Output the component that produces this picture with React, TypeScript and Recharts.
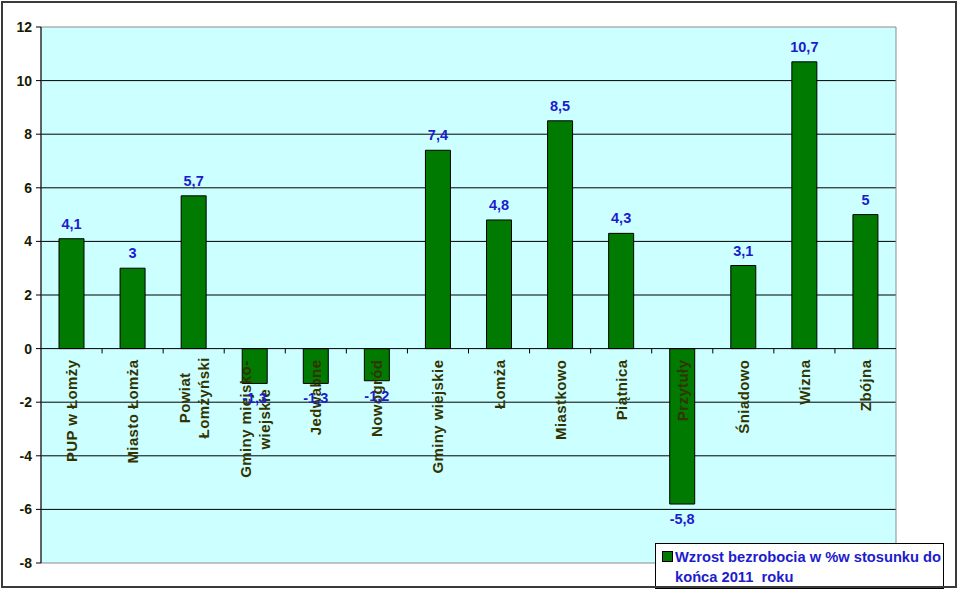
import React from "react";
import {
  BarChart,
  Bar,
  XAxis,
  YAxis,
  CartesianGrid,
  ReferenceLine,
  ReferenceArea,
  LabelList,
  Legend,
} from "recharts";

const categories = [
  "PUP w Łomży",
  "Miasto Łomża",
  "Powiat\nŁomżyński",
  "Gminy miejsko-\nwiejskie",
  "Jedwabne",
  "Nowogród",
  "Gminy wiejskie",
  "Łomża",
  "Miastkowo",
  "Piątnica",
  "Przytuły",
  "Śniadowo",
  "Wizna",
  "Zbójna",
];

const values = [4.1, 3, 5.7, -1.3, -1.3, -1.2, 7.4, 4.8, 8.5, 4.3, -5.8, 3.1, 10.7, 5];

const yTicks = [-8, -6, -4, -2, 0, 2, 4, 6, 8, 10, 12];
const gridValues = [-6, -4, -2, 2, 4, 6, 8, 10];

const seriesName = "Wzrost bezrobocia w %w stosunku do końca 2011  roku";

const data = categories.map((name, i) => ({ name, value: values[i] }));

const FONT = "Arial, 'Liberation Sans', sans-serif";
const BLUE = "#1C1CCC";
const DARK = "#333300";
const GREEN = "#007A00";

const fmt = (v: number) => String(v).replace(".", ",");

const ValueLabel = (props: any) => {
  const { x, y, width, height, value } = props;
  const top = Math.min(y, y + height);
  const bottom = Math.max(y, y + height);
  const cx = x + width / 2;
  const ty = value >= 0 ? top - 15 : bottom + 15;
  return (
    <text
      x={cx}
      y={ty}
      textAnchor="middle"
      dominantBaseline="central"
      fill={BLUE}
      fontFamily={FONT}
      fontWeight="bold"
      fontSize={14.5}
    >
      {fmt(value)}
    </text>
  );
};

const CategoryLabel = (props: any) => {
  const { x, y, width, height, index } = props;
  const top = Math.min(y, y + height);
  const bottom = Math.max(y, y + height);
  const base = values[index] >= 0 ? bottom : top;
  const cx = x + width / 2;
  const lines = String(categories[index]).split("\n");
  const common = {
    fill: DARK,
    fontFamily: FONT,
    fontWeight: "bold" as const,
    fontSize: 15,
    letterSpacing: 0.4,
    dominantBaseline: "central" as const,
  };
  if (lines.length === 1) {
    return (
      <g transform={`translate(${cx},${base + 11}) rotate(-90)`}>
        <text x={0} y={0} textAnchor="end" {...common}>
          {lines[0]}
        </text>
      </g>
    );
  }
  const maxLen = Math.max(...lines.map((l) => l.length));
  const mid = -(maxLen * 8.5) / 2;
  return (
    <g transform={`translate(${cx},${base + 11}) rotate(-90)`}>
      {lines.map((l, i) => (
        <text
          key={i}
          x={mid}
          y={(i - (lines.length - 1) / 2) * 19}
          textAnchor="middle"
          {...common}
        >
          {l}
        </text>
      ))}
    </g>
  );
};

const LegendBox = () => (
  <div
    style={{
      width: 289,
      height: 46,
      boxSizing: "border-box",
      border: "1px solid #000",
      background: "#fff",
      position: "relative",
      fontFamily: FONT,
      fontWeight: "bold",
      fontSize: 14.7,
      color: BLUE,
    }}
  >
    <div
      style={{
        position: "absolute",
        left: 6,
        top: 7,
        width: 9,
        height: 9,
        background: GREEN,
        border: "1px solid #000",
      }}
    />
    <div
      style={{
        position: "absolute",
        left: 19,
        top: 3,
        lineHeight: "20px",
        whiteSpace: "pre",
      }}
    >
      {"Wzrost bezrobocia w %w stosunku do\nkońca 2011  roku"}
    </div>
  </div>
);

export default function App() {
  return (
    <div
      style={{
        position: "absolute",
        left: 0,
        top: 0,
        width: 959,
        height: 589,
        background: "#fff",
        overflow: "hidden",
      }}
    >
      <BarChart
        width={959}
        height={589}
        data={data}
        margin={{ top: 27, right: 63, bottom: 26, left: 0 }}
        barCategoryGap={0}
      >
        <CartesianGrid
          vertical={false}
          horizontalValues={gridValues}
          stroke="#000"
          strokeWidth={1}
          fill="#CCFFFF"
          fillOpacity={1}
        />
        <ReferenceArea y1={-8} y2={12} fill="none" stroke="#8c8c8c" strokeWidth={1} />
        <XAxis dataKey="name" hide />
        <YAxis
          width={41}
          domain={[-8, 12]}
          ticks={yTicks}
          interval={0}
          axisLine={{ stroke: "#000" }}
          tickLine={{ stroke: "#000" }}
          tickSize={5}
          tickMargin={4}
          tick={{ fill: "#1a1a00", fontFamily: FONT, fontWeight: "bold", fontSize: 14 }}
        />
        <ReferenceLine y={0} stroke="#000" strokeWidth={1} />
        {categories.slice(1).map((c) => (
          <ReferenceLine
            key={c}
            position="start"
            segment={[
              { x: c, y: 0 },
              { x: c, y: -0.18 },
            ]}
            stroke="#000"
          />
        ))}
        <Bar
          dataKey="value"
          name={seriesName}
          fill={GREEN}
          stroke="#000"
          strokeWidth={1}
          barSize={25}
          isAnimationActive={false}
        >
          <LabelList dataKey="value" content={<CategoryLabel />} />
          <LabelList dataKey="value" content={<ValueLabel />} />
        </Bar>
        <Legend
          layout="horizontal"
          verticalAlign="middle"
          align="center"
          content={() => <LegendBox />}
          wrapperStyle={{ left: 655, top: 543, width: 289, height: 46 }}
        />
      </BarChart>
      <div
        style={{
          position: "absolute",
          left: 1,
          top: 1,
          width: 956,
          height: 587,
          boxSizing: "border-box",
          border: "2px solid #3a3a3a",
          pointerEvents: "none",
        }}
      />
    </div>
  );
}
